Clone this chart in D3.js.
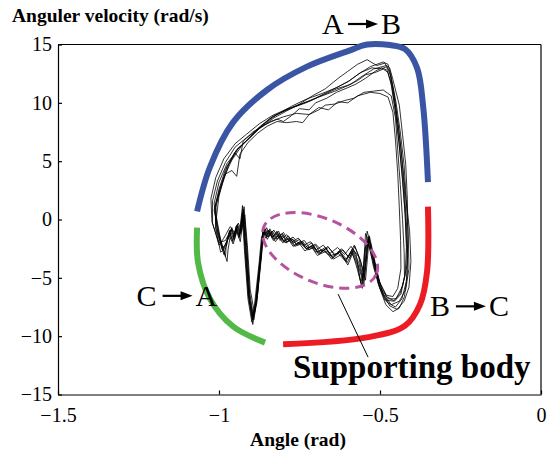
<!DOCTYPE html>
<html>
<head>
<meta charset="utf-8">
<script src="https://cdn.jsdelivr.net/npm/d3@7"></script>
<style>
body{margin:0;background:#fff;}
text{font-family:"Liberation Serif","Times New Roman",serif;}
</style>
</head>
<body>
<div id="chart"></div>
<script>
var chart_width = 552;
var chart_height = 453;

var xTicks = [-1.5, -1, -0.5, 0];
var yTicks = [-15, -10, -5, 0, 5, 10, 15];

// gait cycles, [angle (rad), angular velocity (rad/s)]
var cycle1 = [[-0.99,-2.6],[-1.01,-0.7],[-1.01,1.3],[-0.99,3.0],[-0.97,4.7],[-0.94,6.1],[-0.90,7.1],[-0.87,8.0],[-0.83,8.9],[-0.78,9.5],[-0.73,10.0],[-0.69,10.5],[-0.64,11.0],[-0.59,11.6],[-0.56,12.2],[-0.52,12.9],[-0.48,13.2],[-0.47,13.0],[-0.46,12.0],[-0.44,9.8],[-0.43,7.3],[-0.42,4.7],[-0.415,1.7],[-0.413,-1.3],[-0.416,-3.9],[-0.43,-5.7],[-0.45,-6.8],[-0.475,-6.8],[-0.50,-5.8],[-0.52,-4.1],[-0.537,-1.7],[-0.55,-5.6],[-0.568,-3.9],[-0.587,-2.6],[-0.606,-3.6],[-0.63,-2.9],[-0.655,-3.1],[-0.68,-2.6],[-0.70,-2.8],[-0.71,-2.3],[-0.73,-2.5],[-0.74,-2.0],[-0.76,-2.1],[-0.77,-1.7],[-0.79,-1.9],[-0.80,-1.3],[-0.81,-1.8],[-0.82,-1.1],[-0.835,-1.6],[-0.845,-0.9],[-0.857,-1.3],[-0.862,-0.8],[-0.87,-3.0],[-0.885,-6.8],[-0.894,-8.4],[-0.907,-6.4],[-0.916,-2.6],[-0.925,0.9],[-0.935,-1.3],[-0.945,-0.5],[-0.953,-1.4],[-0.96,-0.7],[-0.972,-1.7],[-0.99,-2.6]];
var cycle2 = [[-0.98,-3.2],[-1.00,-1.2],[-1.015,0.8],[-1.00,2.6],[-0.98,4.3],[-0.95,5.8],[-0.91,6.9],[-0.88,7.8],[-0.84,8.7],[-0.79,9.4],[-0.745,9.9],[-0.70,10.4],[-0.65,11.1],[-0.60,11.8],[-0.565,12.5],[-0.53,13.1],[-0.49,13.5],[-0.475,13.3],[-0.465,12.2],[-0.45,10.0],[-0.437,7.5],[-0.425,4.6],[-0.418,1.5],[-0.412,-1.6],[-0.41,-4.2],[-0.42,-6.0],[-0.44,-7.0],[-0.465,-7.3],[-0.49,-6.4],[-0.51,-4.6],[-0.53,-2.1],[-0.545,-1.2],[-0.555,-5.9],[-0.57,-4.3],[-0.585,-2.9],[-0.60,-3.9],[-0.62,-3.0],[-0.645,-3.4],[-0.665,-2.7],[-0.69,-3.0],[-0.705,-2.4],[-0.725,-2.6],[-0.745,-2.1],[-0.765,-2.3],[-0.78,-1.8],[-0.795,-2.0],[-0.81,-1.4],[-0.825,-1.9],[-0.84,-1.2],[-0.85,-1.7],[-0.86,-1.0],[-0.868,-1.5],[-0.875,-3.6],[-0.89,-7.4],[-0.898,-8.8],[-0.91,-6.8],[-0.92,-3.0],[-0.928,0.5],[-0.938,-1.6],[-0.948,-0.8],[-0.958,-1.8],[-0.968,-1.0],[-0.978,-2.4],[-0.98,-3.2]];
var cycle3 = [[-1.00,-2.2],[-1.02,-0.3],[-1.02,1.6],[-1.005,3.3],[-0.98,4.9],[-0.95,6.2],[-0.915,7.0],[-0.88,7.7],[-0.84,8.4],[-0.80,8.8],[-0.76,9.1],[-0.72,9.0],[-0.69,9.6],[-0.66,9.4],[-0.63,10.1],[-0.60,10.0],[-0.57,10.6],[-0.53,10.9],[-0.50,10.8],[-0.475,10.5],[-0.46,9.2],[-0.452,6.8],[-0.445,4.0],[-0.44,1.0],[-0.436,-1.8],[-0.435,-4.2],[-0.445,-5.9],[-0.46,-6.6],[-0.48,-6.5],[-0.50,-5.5],[-0.515,-3.7],[-0.533,-1.4],[-0.545,-5.2],[-0.56,-3.6],[-0.578,-2.3],[-0.595,-3.3],[-0.615,-2.6],[-0.64,-3.0],[-0.66,-2.4],[-0.68,-2.7],[-0.70,-2.1],[-0.72,-2.4],[-0.735,-1.8],[-0.755,-2.0],[-0.77,-1.5],[-0.785,-1.8],[-0.80,-1.1],[-0.815,-1.6],[-0.83,-0.9],[-0.842,-1.4],[-0.852,-0.7],[-0.86,-1.2],[-0.866,-2.6],[-0.88,-6.4],[-0.89,-8.0],[-0.903,-6.0],[-0.912,-2.2],[-0.92,0.4],[-0.93,-1.0],[-0.94,-0.3],[-0.95,-1.2],[-0.965,-0.6],[-0.985,-1.6],[-1.00,-2.2]];
var cycle4 = [[-0.985,-3.0],[-1.005,-1.0],[-1.01,1.0],[-0.995,2.8],[-0.975,4.5],[-0.945,6.0],[-0.905,7.0],[-0.87,7.9],[-0.83,8.7],[-0.79,9.3],[-0.75,9.9],[-0.71,10.6],[-0.67,11.2],[-0.63,12.1],[-0.60,12.7],[-0.57,13.3],[-0.54,13.7],[-0.51,13.2],[-0.485,13.4],[-0.47,12.7],[-0.458,11.0],[-0.446,8.6],[-0.434,5.8],[-0.425,2.8],[-0.418,-0.2],[-0.414,-3.0],[-0.418,-5.3],[-0.432,-6.8],[-0.452,-7.5],[-0.478,-7.1],[-0.50,-5.9],[-0.518,-3.9],[-0.535,-1.5],[-0.548,-4.9],[-0.562,-3.4],[-0.58,-2.2],[-0.598,-3.2],[-0.62,-2.5],[-0.64,-3.1],[-0.662,-2.3],[-0.685,-2.9],[-0.70,-2.2],[-0.72,-2.6],[-0.74,-1.9],[-0.758,-2.2],[-0.775,-1.6],[-0.79,-2.0],[-0.805,-1.2],[-0.82,-1.7],[-0.834,-1.0],[-0.846,-1.5],[-0.856,-0.8],[-0.864,-1.4],[-0.872,-3.4],[-0.886,-7.1],[-0.896,-8.6],[-0.908,-6.6],[-0.918,-2.8],[-0.926,0.7],[-0.936,-1.5],[-0.946,-0.6],[-0.956,-1.6],[-0.966,-0.9],[-0.976,-2.1],[-0.985,-3.0]];
var cycle5 = [[-0.995,-2.8],[-1.01,-0.8],[-1.012,1.1],[-0.998,2.6],[-0.98,3.9],[-0.96,4.2],[-0.945,3.7],[-0.935,5.6],[-0.91,6.6],[-0.88,7.4],[-0.85,8.0],[-0.82,8.4],[-0.79,8.3],[-0.76,8.4],[-0.74,8.3],[-0.72,9.0],[-0.69,9.4],[-0.67,9.8],[-0.64,9.9],[-0.61,10.2],[-0.58,10.4],[-0.55,10.9],[-0.52,11.0],[-0.49,11.1],[-0.465,10.6],[-0.452,8.7],[-0.445,6.0],[-0.437,3.0],[-0.43,0.0],[-0.425,-2.8],[-0.424,-4.9],[-0.435,-6.4],[-0.455,-7.0],[-0.48,-6.6],[-0.505,-5.1],[-0.522,-3.0],[-0.54,-1.9],[-0.552,-5.3],[-0.566,-3.7],[-0.583,-2.7],[-0.602,-3.7],[-0.624,-2.8],[-0.646,-3.3],[-0.668,-2.5],[-0.69,-2.9],[-0.71,-2.2],[-0.728,-2.5],[-0.748,-1.9],[-0.765,-2.2],[-0.782,-1.6],[-0.798,-1.9],[-0.812,-1.2],[-0.826,-1.7],[-0.838,-1.0],[-0.85,-1.5],[-0.86,-0.9],[-0.866,-1.6],[-0.874,-3.8],[-0.887,-7.6],[-0.895,-9.0],[-0.906,-7.0],[-0.915,-3.2],[-0.924,0.2],[-0.934,-1.9],[-0.944,-1.0],[-0.956,-2.1],[-0.97,-1.3],[-0.985,-2.6],[-0.995,-2.8]];
var cycle6 = [[-0.975,-3.6],[-0.995,-1.8],[-1.008,0.2],[-1.0,2.0],[-0.985,3.6],[-0.96,5.1],[-0.93,6.3],[-0.895,7.3],[-0.86,8.2],[-0.82,9.0],[-0.775,9.7],[-0.73,10.3],[-0.68,10.8],[-0.635,11.3],[-0.595,11.9],[-0.56,12.6],[-0.525,13.0],[-0.495,12.9],[-0.48,13.1],[-0.468,12.4],[-0.455,10.4],[-0.442,7.8],[-0.43,4.8],[-0.42,1.9],[-0.408,-1.0],[-0.404,-3.6],[-0.41,-5.8],[-0.425,-7.0],[-0.447,-7.7],[-0.47,-7.4],[-0.493,-6.2],[-0.512,-4.3],[-0.528,-2.2],[-0.54,-1.0],[-0.553,-5.0],[-0.566,-3.2],[-0.585,-2.5],[-0.605,-3.4],[-0.625,-2.7],[-0.648,-3.2],[-0.67,-2.4],[-0.693,-2.8],[-0.712,-2.0],[-0.732,-2.4],[-0.75,-1.7],[-0.768,-2.0],[-0.785,-1.4],[-0.80,-1.9],[-0.815,-1.0],[-0.83,-1.5],[-0.842,-0.8],[-0.853,-1.4],[-0.862,-0.6],[-0.868,-2.8],[-0.882,-6.9],[-0.892,-8.6],[-0.904,-6.9],[-0.913,-2.6],[-0.922,1.1],[-0.932,-1.1],[-0.943,-0.4],[-0.952,-1.7],[-0.962,-0.9],[-0.972,-2.6],[-0.975,-3.6]];
var cycle7 = [[-1.0,-2.0],[-1.022,-0.2],[-1.025,1.8],[-1.01,3.6],[-0.985,5.2],[-0.95,6.5],[-0.915,7.3],[-0.875,8.2],[-0.835,8.9],[-0.795,9.4],[-0.755,9.8],[-0.715,10.2],[-0.675,10.7],[-0.635,11.2],[-0.60,11.5],[-0.57,11.9],[-0.545,12.4],[-0.515,12.6],[-0.49,12.9],[-0.475,12.6],[-0.463,11.4],[-0.45,9.0],[-0.44,6.3],[-0.43,3.3],[-0.422,0.4],[-0.418,-2.4],[-0.422,-4.8],[-0.437,-6.3],[-0.458,-7.0],[-0.485,-6.9],[-0.506,-5.5],[-0.523,-3.5],[-0.538,-1.9],[-0.548,-4.4],[-0.56,-5.4],[-0.574,-3.0],[-0.59,-2.3],[-0.61,-3.0],[-0.632,-2.4],[-0.655,-2.9],[-0.676,-2.2],[-0.698,-2.6],[-0.716,-1.9],[-0.736,-2.2],[-0.754,-1.6],[-0.772,-1.9],[-0.79,-1.3],[-0.806,-1.7],[-0.82,-1.0],[-0.834,-1.5],[-0.846,-0.9],[-0.856,-1.3],[-0.863,-0.7],[-0.87,-3.2],[-0.883,-7.2],[-0.893,-8.3],[-0.905,-6.2],[-0.914,-2.4],[-0.923,0.6],[-0.933,-1.2],[-0.942,-0.6],[-0.951,-1.5],[-0.962,-0.8],[-0.98,-1.8],[-1.0,-2.0]];
var cycle8 = [[-0.99,-2.4],[-1.008,-0.5],[-1.015,1.4],[-1.0,3.2],[-0.975,4.8],[-0.95,5.7],[-0.935,5.2],[-0.925,6.7],[-0.895,7.5],[-0.86,8.1],[-0.82,8.6],[-0.80,8.4],[-0.775,8.9],[-0.75,9.5],[-0.72,9.4],[-0.70,10.0],[-0.665,10.4],[-0.635,10.9],[-0.60,11.3],[-0.575,11.6],[-0.545,12.1],[-0.515,12.7],[-0.495,13.0],[-0.478,12.8],[-0.466,11.7],[-0.453,9.4],[-0.441,6.6],[-0.43,3.6],[-0.422,0.6],[-0.417,-2.2],[-0.415,-4.6],[-0.424,-6.6],[-0.44,-7.6],[-0.46,-7.9],[-0.482,-7.3],[-0.502,-5.8],[-0.52,-3.6],[-0.536,-1.5],[-0.547,-2.6],[-0.557,-5.7],[-0.572,-3.8],[-0.589,-2.8],[-0.607,-3.5],[-0.628,-2.7],[-0.65,-3.4],[-0.673,-2.6],[-0.694,-3.1],[-0.714,-2.3],[-0.733,-2.7],[-0.752,-2.0],[-0.77,-2.3],[-0.787,-1.6],[-0.802,-2.0],[-0.817,-1.3],[-0.831,-1.8],[-0.844,-1.1],[-0.855,-1.6],[-0.863,-1.0],[-0.869,-3.1],[-0.884,-7.0],[-0.895,-8.5],[-0.909,-6.5],[-0.919,-2.7],[-0.927,1.2],[-0.937,-1.4],[-0.947,-0.6],[-0.957,-1.9],[-0.967,-1.1],[-0.979,-2.2],[-0.99,-2.4]];
var cycles = [cycle1, cycle2, cycle3, cycle4, cycle5, cycle6, cycle7, cycle8];

// phase arcs around the loop
var arcAB = [[-1.068,0.7],[-1.028,4.5],[-0.957,8.3],[-0.851,11.1],[-0.727,13.1],[-0.593,14.5],[-0.540,15.0],[-0.469,14.95],[-0.422,14.6],[-0.385,13.0],[-0.366,9.7],[-0.351,3.2]];
var arcBC = [[-0.351,1.1],[-0.354,-4.5],[-0.376,-7.3],[-0.422,-9.1],[-0.540,-10.1],[-0.801,-10.7]];
var arcCA = [[-1.068,-0.7],[-1.065,-3.7],[-1.028,-6.8],[-0.957,-9.15],[-0.857,-10.55]];
var supportCentre = [-0.686, -2.65];
var leader = [[-0.630,-6.4],[-0.537,-11.8]];

// phase labels: from, to, angle, velocity of baseline start
var phaseLabels = [["A","B",-0.680,15.9],["C","A",-1.256,-7.4],["B","C",-0.345,-8.3]];

var margin = {left:58, right:11, top:44.5, bottom:58.5};

var x = d3.scaleLinear().domain([-1.5, 0]).range([margin.left, chart_width - margin.right]);
var y = d3.scaleLinear().domain([-15, 15]).range([chart_height - margin.bottom, margin.top]);

var svg = d3.select('#chart')
    .append('svg')
    .attr('width', chart_width)
    .attr('height', chart_height);

var fmt = function(d){ return d < 0 ? '\u2212' + Math.abs(d) : String(d); };

// axes
var gx = svg.append('g')
    .attr('transform', 'translate(0,' + y(-15) + ')')
    .call(d3.axisBottom(x).tickValues(xTicks).tickFormat(fmt).tickSizeInner(-4).tickSizeOuter(0).tickPadding(13));
var gy = svg.append('g')
    .attr('transform', 'translate(' + x(-1.5) + ',0)')
    .call(d3.axisLeft(y).tickValues(yTicks).tickFormat(fmt).tickSizeInner(-4).tickSizeOuter(0).tickPadding(6));
[gx, gy].forEach(function(g){
    g.selectAll('text').attr('font-family', '"Liberation Serif", serif').attr('font-size', 20).attr('fill', '#000');
    g.selectAll('line, path').attr('stroke', '#000').attr('stroke-width', 1.2);
});

// box
svg.append('line').attr('x1', x(-1.5)).attr('x2', x(0)).attr('y1', y(15)).attr('y2', y(15)).attr('stroke', '#000').attr('stroke-width', 1.2);
svg.append('line').attr('x1', x(0)).attr('x2', x(0)).attr('y1', y(15)).attr('y2', y(-15)).attr('stroke', '#000').attr('stroke-width', 1.2);

// axis titles
svg.append('text').text('Anguler velocity (rad/s)')
    .attr('x', 12).attr('y', 22)
    .attr('font-weight', 'bold').attr('font-size', 19.5);
svg.append('text').text('Angle (rad)')
    .attr('x', 298).attr('y', 446)
    .attr('text-anchor', 'middle')
    .attr('font-weight', 'bold').attr('font-size', 19.5);

var line = d3.line()
    .x(function(d){ return x(d[0]); })
    .y(function(d){ return y(d[1]); });
var smooth = d3.line()
    .x(function(d){ return x(d[0]); })
    .y(function(d){ return y(d[1]); })
    .curve(d3.curveCatmullRom);

// coloured phase arcs
var arcs = [[arcAB, '#3b55a5'], [arcBC, '#ed1c24'], [arcCA, '#52b848']];
svg.selectAll('path.arc')
    .data(arcs)
    .enter()
    .append('path')
    .attr('class', 'arc')
    .attr('d', function(d){ return smooth(d[0]); })
    .attr('fill', 'none')
    .attr('stroke', function(d){ return d[1]; })
    .attr('stroke-width', 6);

// cycles
svg.selectAll('path.cycle')
    .data(cycles)
    .enter()
    .append('path')
    .attr('class', 'cycle')
    .attr('d', line)
    .attr('fill', 'none')
    .attr('stroke', '#000')
    .attr('stroke-width', 0.8)
    .attr('stroke-linejoin', 'round');

// supporting body ellipse
svg.append('ellipse')
    .attr('cx', x(supportCentre[0])).attr('cy', y(supportCentre[1]))
    .attr('rx', 61).attr('ry', 32)
    .attr('transform', 'rotate(23,' + x(supportCentre[0]) + ',' + y(supportCentre[1]) + ')')
    .attr('fill', 'none')
    .attr('stroke', '#b7529f')
    .attr('stroke-width', 3)
    .attr('stroke-dasharray', '10,6');

svg.append('path')
    .attr('d', line(leader))
    .attr('stroke', '#000')
    .attr('stroke-width', 1);

svg.append('text').text('Supporting body')
    .attr('x', 293).attr('y', 378)
    .attr('font-weight', 'bold').attr('font-size', 33);

// phase labels with arrows
phaseLabels.forEach(function(p){
    var px = x(p[2]), py = y(p[3]);
    var g = svg.append('g').attr('transform', 'translate(' + px + ',' + py + ')');
    g.append('text').text(p[0]).attr('x', 0).attr('y', 0).attr('font-size', 30);
    g.append('text').text(p[1]).attr('x', 59).attr('y', 0).attr('font-size', 30);
    g.append('line').attr('x1', 26).attr('x2', 46).attr('y1', -10).attr('y2', -10).attr('stroke', '#000').attr('stroke-width', 2.2);
    g.append('path').attr('d', 'M44,-14.5L56,-10L44,-5.5Z').attr('fill', '#000');
});
</script>
</body>
</html>
